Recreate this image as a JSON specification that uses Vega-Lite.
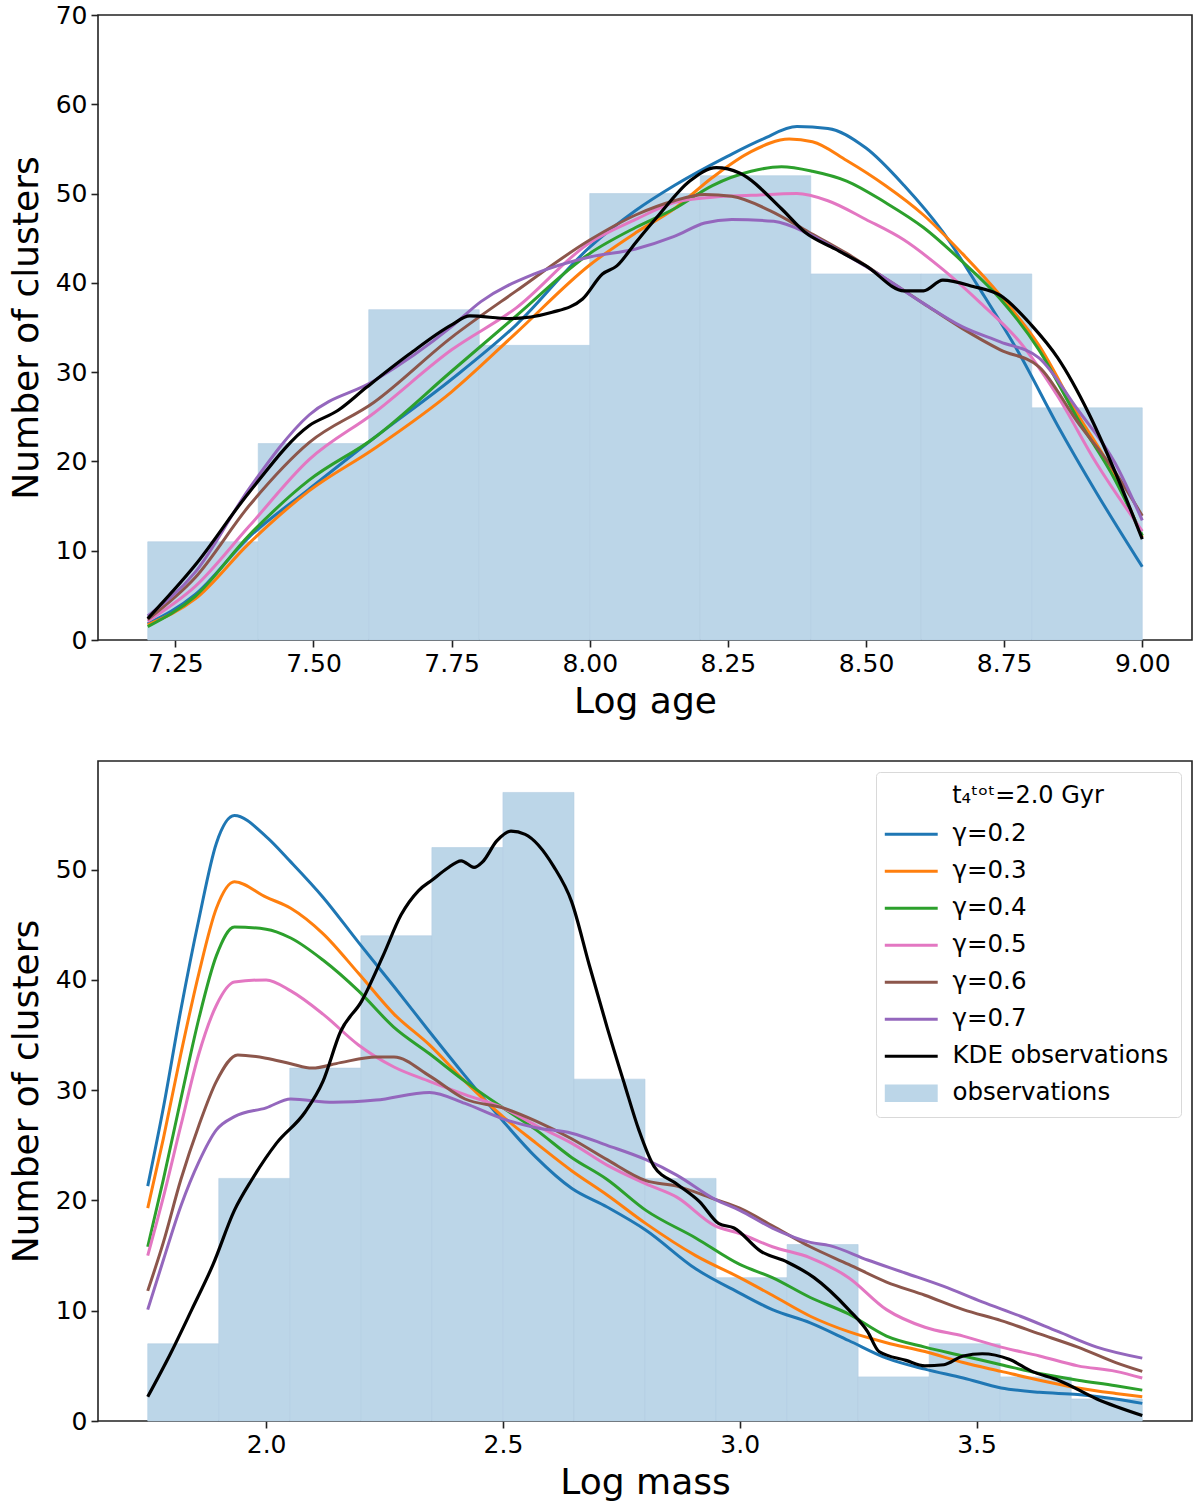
{
  "$schema": "https://vega.github.io/schema/vega-lite/v6.json",
  "description": "Cluster age and mass distributions: observations vs models for several gamma",
  "padding": {"left": 7, "top": 2, "right": 4, "bottom": 2},
  "spacing": 40,
  "datasets": {
    "ageBars": [
      {"x0": 7.2, "x1": 7.4, "n": 11},
      {"x0": 7.4, "x1": 7.6, "n": 22},
      {"x0": 7.6, "x1": 7.8, "n": 37},
      {"x0": 7.8, "x1": 8.0, "n": 33},
      {"x0": 8.0, "x1": 8.2, "n": 50},
      {"x0": 8.2, "x1": 8.4, "n": 52},
      {"x0": 8.4, "x1": 8.6, "n": 41},
      {"x0": 8.6, "x1": 8.8, "n": 41},
      {"x0": 8.8, "x1": 9.0, "n": 26}
    ],
    "massBars": [
      {"x0": 1.75, "x1": 1.9, "n": 7},
      {"x0": 1.9, "x1": 2.05, "n": 22},
      {"x0": 2.05, "x1": 2.2, "n": 32},
      {"x0": 2.2, "x1": 2.35, "n": 44},
      {"x0": 2.35, "x1": 2.5, "n": 52},
      {"x0": 2.5, "x1": 2.65, "n": 57},
      {"x0": 2.65, "x1": 2.8, "n": 31},
      {"x0": 2.8, "x1": 2.95, "n": 22},
      {"x0": 2.95, "x1": 3.1, "n": 13},
      {"x0": 3.1, "x1": 3.25, "n": 16},
      {"x0": 3.25, "x1": 3.4, "n": 4},
      {"x0": 3.4, "x1": 3.55, "n": 7},
      {"x0": 3.55, "x1": 3.7, "n": 4},
      {"x0": 3.7, "x1": 3.85, "n": 2}
    ],
    "ageCurves": [
      {"s": "γ=0.2", "x": 7.2, "y": 1.8}, {"s": "γ=0.2", "x": 7.286, "y": 5.1}, {"s": "γ=0.2", "x": 7.383, "y": 11.5}, {"s": "γ=0.2", "x": 7.492, "y": 16.9}, {"s": "γ=0.2", "x": 7.609, "y": 22.6}, {"s": "γ=0.2", "x": 7.75, "y": 29.2}, {"s": "γ=0.2", "x": 7.867, "y": 35.3}, {"s": "γ=0.2", "x": 8.0, "y": 44.0}, {"s": "γ=0.2", "x": 8.083, "y": 48.1}, {"s": "γ=0.2", "x": 8.153, "y": 50.9}, {"s": "γ=0.2", "x": 8.25, "y": 54.2}, {"s": "γ=0.2", "x": 8.313, "y": 56.1}, {"s": "γ=0.2", "x": 8.375, "y": 57.5}, {"s": "γ=0.2", "x": 8.431, "y": 57.3}, {"s": "γ=0.2", "x": 8.5, "y": 55.1}, {"s": "γ=0.2", "x": 8.569, "y": 50.9}, {"s": "γ=0.2", "x": 8.639, "y": 45.7}, {"s": "γ=0.2", "x": 8.708, "y": 39.1}, {"s": "γ=0.2", "x": 8.778, "y": 32.0}, {"s": "γ=0.2", "x": 8.847, "y": 24.0}, {"s": "γ=0.2", "x": 8.917, "y": 16.5}, {"s": "γ=0.2", "x": 9.0, "y": 8.2},
      {"s": "γ=0.3", "x": 7.2, "y": 1.7}, {"s": "γ=0.3", "x": 7.286, "y": 4.6}, {"s": "γ=0.3", "x": 7.383, "y": 10.8}, {"s": "γ=0.3", "x": 7.492, "y": 16.7}, {"s": "γ=0.3", "x": 7.609, "y": 21.4}, {"s": "γ=0.3", "x": 7.75, "y": 27.8}, {"s": "γ=0.3", "x": 7.867, "y": 34.4}, {"s": "γ=0.3", "x": 8.0, "y": 42.0}, {"s": "γ=0.3", "x": 8.083, "y": 45.6}, {"s": "γ=0.3", "x": 8.153, "y": 48.3}, {"s": "γ=0.3", "x": 8.222, "y": 51.8}, {"s": "γ=0.3", "x": 8.292, "y": 54.7}, {"s": "γ=0.3", "x": 8.361, "y": 56.1}, {"s": "γ=0.3", "x": 8.403, "y": 55.8}, {"s": "γ=0.3", "x": 8.465, "y": 53.7}, {"s": "γ=0.3", "x": 8.535, "y": 50.9}, {"s": "γ=0.3", "x": 8.604, "y": 47.6}, {"s": "γ=0.3", "x": 8.674, "y": 43.3}, {"s": "γ=0.3", "x": 8.743, "y": 38.6}, {"s": "γ=0.3", "x": 8.813, "y": 33.0}, {"s": "γ=0.3", "x": 8.882, "y": 25.4}, {"s": "γ=0.3", "x": 8.951, "y": 18.3}, {"s": "γ=0.3", "x": 9.0, "y": 11.5},
      {"s": "γ=0.4", "x": 7.2, "y": 1.5}, {"s": "γ=0.4", "x": 7.286, "y": 4.9}, {"s": "γ=0.4", "x": 7.383, "y": 11.7}, {"s": "γ=0.4", "x": 7.492, "y": 17.9}, {"s": "γ=0.4", "x": 7.609, "y": 22.6}, {"s": "γ=0.4", "x": 7.75, "y": 30.1}, {"s": "γ=0.4", "x": 7.867, "y": 36.3}, {"s": "γ=0.4", "x": 8.0, "y": 43.3}, {"s": "γ=0.4", "x": 8.083, "y": 46.2}, {"s": "γ=0.4", "x": 8.153, "y": 48.3}, {"s": "γ=0.4", "x": 8.222, "y": 50.9}, {"s": "γ=0.4", "x": 8.292, "y": 52.5}, {"s": "γ=0.4", "x": 8.347, "y": 53.0}, {"s": "γ=0.4", "x": 8.403, "y": 52.5}, {"s": "γ=0.4", "x": 8.465, "y": 51.4}, {"s": "γ=0.4", "x": 8.535, "y": 49.0}, {"s": "γ=0.4", "x": 8.604, "y": 46.2}, {"s": "γ=0.4", "x": 8.674, "y": 42.4}, {"s": "γ=0.4", "x": 8.743, "y": 38.2}, {"s": "γ=0.4", "x": 8.813, "y": 32.5}, {"s": "γ=0.4", "x": 8.882, "y": 24.9}, {"s": "γ=0.4", "x": 8.951, "y": 17.9}, {"s": "γ=0.4", "x": 9.0, "y": 11.7},
      {"s": "γ=0.5", "x": 7.2, "y": 2.1}, {"s": "γ=0.5", "x": 7.286, "y": 6.0}, {"s": "γ=0.5", "x": 7.383, "y": 12.7}, {"s": "γ=0.5", "x": 7.492, "y": 20.2}, {"s": "γ=0.5", "x": 7.609, "y": 25.4}, {"s": "γ=0.5", "x": 7.75, "y": 32.5}, {"s": "γ=0.5", "x": 7.867, "y": 37.2}, {"s": "γ=0.5", "x": 8.0, "y": 44.5}, {"s": "γ=0.5", "x": 8.083, "y": 47.1}, {"s": "γ=0.5", "x": 8.153, "y": 49.0}, {"s": "γ=0.5", "x": 8.222, "y": 49.6}, {"s": "γ=0.5", "x": 8.292, "y": 49.8}, {"s": "γ=0.5", "x": 8.375, "y": 50.0}, {"s": "γ=0.5", "x": 8.431, "y": 49.2}, {"s": "γ=0.5", "x": 8.5, "y": 47.1}, {"s": "γ=0.5", "x": 8.569, "y": 44.8}, {"s": "γ=0.5", "x": 8.639, "y": 41.5}, {"s": "γ=0.5", "x": 8.708, "y": 37.7}, {"s": "γ=0.5", "x": 8.778, "y": 33.4}, {"s": "γ=0.5", "x": 8.847, "y": 27.3}, {"s": "γ=0.5", "x": 8.917, "y": 19.8}, {"s": "γ=0.5", "x": 9.0, "y": 12.2},
      {"s": "γ=0.6", "x": 7.2, "y": 2.3}, {"s": "γ=0.6", "x": 7.286, "y": 7.0}, {"s": "γ=0.6", "x": 7.383, "y": 15.0}, {"s": "γ=0.6", "x": 7.492, "y": 22.1}, {"s": "γ=0.6", "x": 7.609, "y": 26.6}, {"s": "γ=0.6", "x": 7.75, "y": 33.9}, {"s": "γ=0.6", "x": 7.867, "y": 39.1}, {"s": "γ=0.6", "x": 8.0, "y": 44.8}, {"s": "γ=0.6", "x": 8.083, "y": 47.6}, {"s": "γ=0.6", "x": 8.153, "y": 49.2}, {"s": "γ=0.6", "x": 8.208, "y": 49.9}, {"s": "γ=0.6", "x": 8.257, "y": 49.7}, {"s": "γ=0.6", "x": 8.326, "y": 48.1}, {"s": "γ=0.6", "x": 8.396, "y": 45.7}, {"s": "γ=0.6", "x": 8.465, "y": 43.3}, {"s": "γ=0.6", "x": 8.535, "y": 40.5}, {"s": "γ=0.6", "x": 8.604, "y": 37.7}, {"s": "γ=0.6", "x": 8.674, "y": 34.9}, {"s": "γ=0.6", "x": 8.743, "y": 32.5}, {"s": "γ=0.6", "x": 8.813, "y": 30.6}, {"s": "γ=0.6", "x": 8.882, "y": 24.5}, {"s": "γ=0.6", "x": 8.951, "y": 18.8}, {"s": "γ=0.6", "x": 9.0, "y": 13.9},
      {"s": "γ=0.7", "x": 7.2, "y": 2.7}, {"s": "γ=0.7", "x": 7.286, "y": 7.6}, {"s": "γ=0.7", "x": 7.383, "y": 16.9}, {"s": "γ=0.7", "x": 7.492, "y": 25.2}, {"s": "γ=0.7", "x": 7.609, "y": 29.0}, {"s": "γ=0.7", "x": 7.75, "y": 35.1}, {"s": "γ=0.7", "x": 7.803, "y": 37.9}, {"s": "γ=0.7", "x": 7.9, "y": 41.0}, {"s": "γ=0.7", "x": 8.0, "y": 42.9}, {"s": "γ=0.7", "x": 8.083, "y": 43.8}, {"s": "γ=0.7", "x": 8.153, "y": 45.2}, {"s": "γ=0.7", "x": 8.208, "y": 46.7}, {"s": "γ=0.7", "x": 8.257, "y": 47.1}, {"s": "γ=0.7", "x": 8.333, "y": 46.9}, {"s": "γ=0.7", "x": 8.396, "y": 45.5}, {"s": "γ=0.7", "x": 8.465, "y": 43.1}, {"s": "γ=0.7", "x": 8.535, "y": 40.5}, {"s": "γ=0.7", "x": 8.604, "y": 37.7}, {"s": "γ=0.7", "x": 8.674, "y": 35.1}, {"s": "γ=0.7", "x": 8.743, "y": 33.4}, {"s": "γ=0.7", "x": 8.813, "y": 31.6}, {"s": "γ=0.7", "x": 8.882, "y": 25.9}, {"s": "γ=0.7", "x": 8.951, "y": 19.8}, {"s": "γ=0.7", "x": 9.0, "y": 13.4}
    ],
    "ageKde": [
      {"x": 7.2, "y": 2.4}, {"x": 7.286, "y": 8.4}, {"x": 7.383, "y": 16.5}, {"x": 7.492, "y": 24.0}, {"x": 7.544, "y": 25.7}, {"x": 7.596, "y": 28.3}, {"x": 7.673, "y": 32.0}, {"x": 7.75, "y": 35.3}, {"x": 7.783, "y": 36.3}, {"x": 7.855, "y": 36.0}, {"x": 7.932, "y": 36.7}, {"x": 7.987, "y": 38.2}, {"x": 8.023, "y": 41.0}, {"x": 8.049, "y": 41.9}, {"x": 8.083, "y": 44.5}, {"x": 8.125, "y": 47.6}, {"x": 8.181, "y": 51.4}, {"x": 8.229, "y": 52.9}, {"x": 8.271, "y": 52.3}, {"x": 8.347, "y": 48.3}, {"x": 8.389, "y": 45.7}, {"x": 8.444, "y": 43.8}, {"x": 8.5, "y": 41.9}, {"x": 8.569, "y": 39.1}, {"x": 8.604, "y": 39.1}, {"x": 8.639, "y": 40.3}, {"x": 8.694, "y": 39.6}, {"x": 8.743, "y": 38.6}, {"x": 8.799, "y": 35.3}, {"x": 8.847, "y": 31.6}, {"x": 8.903, "y": 25.4}, {"x": 8.951, "y": 18.8}, {"x": 9.0, "y": 11.3}
    ],
    "massCurves": [
      {"s": "γ=0.2", "x": 1.75, "y": 21.3}, {"s": "γ=0.2", "x": 1.783, "y": 28.4}, {"s": "γ=0.2", "x": 1.82, "y": 37.3}, {"s": "γ=0.2", "x": 1.858, "y": 45.5}, {"s": "γ=0.2", "x": 1.895, "y": 52.4}, {"s": "γ=0.2", "x": 1.933, "y": 54.9}, {"s": "γ=0.2", "x": 2.0, "y": 53.0}, {"s": "γ=0.2", "x": 2.052, "y": 50.7}, {"s": "γ=0.2", "x": 2.12, "y": 47.5}, {"s": "γ=0.2", "x": 2.195, "y": 43.4}, {"s": "γ=0.2", "x": 2.27, "y": 39.4}, {"s": "γ=0.2", "x": 2.345, "y": 35.3}, {"s": "γ=0.2", "x": 2.42, "y": 31.3}, {"s": "γ=0.2", "x": 2.5, "y": 27.2}, {"s": "γ=0.2", "x": 2.57, "y": 23.9}, {"s": "γ=0.2", "x": 2.645, "y": 21.1}, {"s": "γ=0.2", "x": 2.72, "y": 19.4}, {"s": "γ=0.2", "x": 2.802, "y": 17.3}, {"s": "γ=0.2", "x": 2.907, "y": 13.8}, {"s": "γ=0.2", "x": 3.0, "y": 11.6}, {"s": "γ=0.2", "x": 3.069, "y": 10.1}, {"s": "γ=0.2", "x": 3.149, "y": 8.9}, {"s": "γ=0.2", "x": 3.23, "y": 7.3}, {"s": "γ=0.2", "x": 3.31, "y": 5.7}, {"s": "γ=0.2", "x": 3.391, "y": 4.7}, {"s": "γ=0.2", "x": 3.472, "y": 3.9}, {"s": "γ=0.2", "x": 3.552, "y": 3.0}, {"s": "γ=0.2", "x": 3.633, "y": 2.6}, {"s": "γ=0.2", "x": 3.714, "y": 2.4}, {"s": "γ=0.2", "x": 3.794, "y": 2.0}, {"s": "γ=0.2", "x": 3.85, "y": 1.6},
      {"s": "γ=0.3", "x": 1.75, "y": 19.3}, {"s": "γ=0.3", "x": 1.783, "y": 25.6}, {"s": "γ=0.3", "x": 1.82, "y": 33.3}, {"s": "γ=0.3", "x": 1.858, "y": 40.6}, {"s": "γ=0.3", "x": 1.895, "y": 46.5}, {"s": "γ=0.3", "x": 1.933, "y": 48.9}, {"s": "γ=0.3", "x": 2.0, "y": 47.5}, {"s": "γ=0.3", "x": 2.052, "y": 46.5}, {"s": "γ=0.3", "x": 2.12, "y": 44.2}, {"s": "γ=0.3", "x": 2.195, "y": 40.6}, {"s": "γ=0.3", "x": 2.27, "y": 36.9}, {"s": "γ=0.3", "x": 2.345, "y": 34.1}, {"s": "γ=0.3", "x": 2.42, "y": 30.8}, {"s": "γ=0.3", "x": 2.5, "y": 27.6}, {"s": "γ=0.3", "x": 2.57, "y": 25.2}, {"s": "γ=0.3", "x": 2.645, "y": 22.7}, {"s": "γ=0.3", "x": 2.72, "y": 20.5}, {"s": "γ=0.3", "x": 2.802, "y": 17.9}, {"s": "γ=0.3", "x": 2.907, "y": 15.0}, {"s": "γ=0.3", "x": 3.0, "y": 13.0}, {"s": "γ=0.3", "x": 3.069, "y": 11.4}, {"s": "γ=0.3", "x": 3.149, "y": 9.5}, {"s": "γ=0.3", "x": 3.23, "y": 8.1}, {"s": "γ=0.3", "x": 3.31, "y": 7.1}, {"s": "γ=0.3", "x": 3.391, "y": 6.3}, {"s": "γ=0.3", "x": 3.472, "y": 5.3}, {"s": "γ=0.3", "x": 3.552, "y": 4.5}, {"s": "γ=0.3", "x": 3.633, "y": 3.7}, {"s": "γ=0.3", "x": 3.714, "y": 3.0}, {"s": "γ=0.3", "x": 3.794, "y": 2.5}, {"s": "γ=0.3", "x": 3.85, "y": 2.2},
      {"s": "γ=0.4", "x": 1.75, "y": 15.8}, {"s": "γ=0.4", "x": 1.783, "y": 21.9}, {"s": "γ=0.4", "x": 1.82, "y": 29.2}, {"s": "γ=0.4", "x": 1.858, "y": 36.5}, {"s": "γ=0.4", "x": 1.895, "y": 42.2}, {"s": "γ=0.4", "x": 1.933, "y": 44.8}, {"s": "γ=0.4", "x": 2.0, "y": 44.6}, {"s": "γ=0.4", "x": 2.052, "y": 43.8}, {"s": "γ=0.4", "x": 2.12, "y": 41.8}, {"s": "γ=0.4", "x": 2.195, "y": 39.0}, {"s": "γ=0.4", "x": 2.27, "y": 35.7}, {"s": "γ=0.4", "x": 2.345, "y": 33.3}, {"s": "γ=0.4", "x": 2.42, "y": 30.8}, {"s": "γ=0.4", "x": 2.5, "y": 28.4}, {"s": "γ=0.4", "x": 2.57, "y": 26.4}, {"s": "γ=0.4", "x": 2.645, "y": 23.9}, {"s": "γ=0.4", "x": 2.72, "y": 21.9}, {"s": "γ=0.4", "x": 2.802, "y": 19.1}, {"s": "γ=0.4", "x": 2.907, "y": 16.6}, {"s": "γ=0.4", "x": 3.0, "y": 14.2}, {"s": "γ=0.4", "x": 3.069, "y": 13.0}, {"s": "γ=0.4", "x": 3.149, "y": 11.2}, {"s": "γ=0.4", "x": 3.23, "y": 9.7}, {"s": "γ=0.4", "x": 3.31, "y": 7.7}, {"s": "γ=0.4", "x": 3.391, "y": 6.7}, {"s": "γ=0.4", "x": 3.472, "y": 5.9}, {"s": "γ=0.4", "x": 3.552, "y": 5.1}, {"s": "γ=0.4", "x": 3.633, "y": 4.3}, {"s": "γ=0.4", "x": 3.714, "y": 3.7}, {"s": "γ=0.4", "x": 3.794, "y": 3.2}, {"s": "γ=0.4", "x": 3.85, "y": 2.8},
      {"s": "γ=0.5", "x": 1.75, "y": 15.0}, {"s": "γ=0.5", "x": 1.783, "y": 20.3}, {"s": "γ=0.5", "x": 1.82, "y": 26.8}, {"s": "γ=0.5", "x": 1.858, "y": 33.3}, {"s": "γ=0.5", "x": 1.895, "y": 37.7}, {"s": "γ=0.5", "x": 1.933, "y": 39.8}, {"s": "γ=0.5", "x": 2.0, "y": 40.0}, {"s": "γ=0.5", "x": 2.052, "y": 39.0}, {"s": "γ=0.5", "x": 2.12, "y": 36.9}, {"s": "γ=0.5", "x": 2.195, "y": 34.1}, {"s": "γ=0.5", "x": 2.27, "y": 32.1}, {"s": "γ=0.5", "x": 2.345, "y": 30.8}, {"s": "γ=0.5", "x": 2.42, "y": 29.6}, {"s": "γ=0.5", "x": 2.5, "y": 28.4}, {"s": "γ=0.5", "x": 2.57, "y": 26.8}, {"s": "γ=0.5", "x": 2.645, "y": 25.2}, {"s": "γ=0.5", "x": 2.72, "y": 23.2}, {"s": "γ=0.5", "x": 2.802, "y": 21.5}, {"s": "γ=0.5", "x": 2.867, "y": 20.3}, {"s": "γ=0.5", "x": 2.948, "y": 17.7}, {"s": "γ=0.5", "x": 3.0, "y": 17.0}, {"s": "γ=0.5", "x": 3.069, "y": 15.8}, {"s": "γ=0.5", "x": 3.149, "y": 14.8}, {"s": "γ=0.5", "x": 3.23, "y": 13.0}, {"s": "γ=0.5", "x": 3.31, "y": 10.1}, {"s": "γ=0.5", "x": 3.391, "y": 8.5}, {"s": "γ=0.5", "x": 3.472, "y": 7.7}, {"s": "γ=0.5", "x": 3.552, "y": 6.7}, {"s": "γ=0.5", "x": 3.633, "y": 5.9}, {"s": "γ=0.5", "x": 3.714, "y": 5.0}, {"s": "γ=0.5", "x": 3.794, "y": 4.5}, {"s": "γ=0.5", "x": 3.85, "y": 3.9},
      {"s": "γ=0.6", "x": 1.75, "y": 11.8}, {"s": "γ=0.6", "x": 1.783, "y": 16.2}, {"s": "γ=0.6", "x": 1.82, "y": 21.9}, {"s": "γ=0.6", "x": 1.858, "y": 26.8}, {"s": "γ=0.6", "x": 1.895, "y": 30.8}, {"s": "γ=0.6", "x": 1.94, "y": 33.2}, {"s": "γ=0.6", "x": 2.0, "y": 32.9}, {"s": "γ=0.6", "x": 2.052, "y": 32.4}, {"s": "γ=0.6", "x": 2.097, "y": 32.0}, {"s": "γ=0.6", "x": 2.157, "y": 32.5}, {"s": "γ=0.6", "x": 2.232, "y": 33.0}, {"s": "γ=0.6", "x": 2.27, "y": 33.0}, {"s": "γ=0.6", "x": 2.345, "y": 31.3}, {"s": "γ=0.6", "x": 2.42, "y": 29.2}, {"s": "γ=0.6", "x": 2.5, "y": 28.4}, {"s": "γ=0.6", "x": 2.57, "y": 27.2}, {"s": "γ=0.6", "x": 2.645, "y": 25.6}, {"s": "γ=0.6", "x": 2.72, "y": 23.7}, {"s": "γ=0.6", "x": 2.802, "y": 21.8}, {"s": "γ=0.6", "x": 2.867, "y": 21.3}, {"s": "γ=0.6", "x": 2.948, "y": 20.1}, {"s": "γ=0.6", "x": 3.0, "y": 19.3}, {"s": "γ=0.6", "x": 3.069, "y": 17.7}, {"s": "γ=0.6", "x": 3.149, "y": 15.8}, {"s": "γ=0.6", "x": 3.23, "y": 14.2}, {"s": "γ=0.6", "x": 3.31, "y": 12.6}, {"s": "γ=0.6", "x": 3.391, "y": 11.4}, {"s": "γ=0.6", "x": 3.472, "y": 10.1}, {"s": "γ=0.6", "x": 3.552, "y": 9.1}, {"s": "γ=0.6", "x": 3.633, "y": 7.9}, {"s": "γ=0.6", "x": 3.714, "y": 6.7}, {"s": "γ=0.6", "x": 3.794, "y": 5.3}, {"s": "γ=0.6", "x": 3.85, "y": 4.5},
      {"s": "γ=0.7", "x": 1.75, "y": 10.1}, {"s": "γ=0.7", "x": 1.783, "y": 14.6}, {"s": "γ=0.7", "x": 1.82, "y": 19.5}, {"s": "γ=0.7", "x": 1.858, "y": 23.5}, {"s": "γ=0.7", "x": 1.895, "y": 26.4}, {"s": "γ=0.7", "x": 1.933, "y": 27.6}, {"s": "γ=0.7", "x": 2.0, "y": 28.4}, {"s": "γ=0.7", "x": 2.052, "y": 29.2}, {"s": "γ=0.7", "x": 2.142, "y": 28.9}, {"s": "γ=0.7", "x": 2.232, "y": 29.1}, {"s": "γ=0.7", "x": 2.345, "y": 29.8}, {"s": "γ=0.7", "x": 2.42, "y": 28.8}, {"s": "γ=0.7", "x": 2.5, "y": 27.4}, {"s": "γ=0.7", "x": 2.57, "y": 26.6}, {"s": "γ=0.7", "x": 2.645, "y": 26.1}, {"s": "γ=0.7", "x": 2.72, "y": 25.0}, {"s": "γ=0.7", "x": 2.802, "y": 23.7}, {"s": "γ=0.7", "x": 2.867, "y": 22.3}, {"s": "γ=0.7", "x": 2.948, "y": 20.1}, {"s": "γ=0.7", "x": 3.0, "y": 19.1}, {"s": "γ=0.7", "x": 3.069, "y": 17.5}, {"s": "γ=0.7", "x": 3.149, "y": 16.2}, {"s": "γ=0.7", "x": 3.19, "y": 15.9}, {"s": "γ=0.7", "x": 3.27, "y": 14.6}, {"s": "γ=0.7", "x": 3.351, "y": 13.4}, {"s": "γ=0.7", "x": 3.431, "y": 12.2}, {"s": "γ=0.7", "x": 3.512, "y": 10.8}, {"s": "γ=0.7", "x": 3.593, "y": 9.5}, {"s": "γ=0.7", "x": 3.673, "y": 8.1}, {"s": "γ=0.7", "x": 3.754, "y": 6.7}, {"s": "γ=0.7", "x": 3.85, "y": 5.7}
    ],
    "massKde": [
      {"x": 1.75, "y": 2.2}, {"x": 1.798, "y": 6.1}, {"x": 1.843, "y": 10.1}, {"x": 1.888, "y": 14.2}, {"x": 1.933, "y": 19.1}, {"x": 1.97, "y": 21.9}, {"x": 2.022, "y": 25.2}, {"x": 2.082, "y": 28.0}, {"x": 2.12, "y": 30.8}, {"x": 2.157, "y": 35.3}, {"x": 2.202, "y": 38.1}, {"x": 2.247, "y": 42.2}, {"x": 2.285, "y": 45.9}, {"x": 2.322, "y": 48.1}, {"x": 2.352, "y": 49.1}, {"x": 2.382, "y": 50.1}, {"x": 2.412, "y": 50.8}, {"x": 2.439, "y": 50.2}, {"x": 2.457, "y": 50.7}, {"x": 2.487, "y": 52.6}, {"x": 2.517, "y": 53.5}, {"x": 2.547, "y": 53.2}, {"x": 2.607, "y": 50.3}, {"x": 2.645, "y": 47.1}, {"x": 2.682, "y": 41.4}, {"x": 2.72, "y": 35.7}, {"x": 2.757, "y": 30.5}, {"x": 2.787, "y": 26.4}, {"x": 2.819, "y": 23.1}, {"x": 2.867, "y": 21.5}, {"x": 2.915, "y": 19.9}, {"x": 2.956, "y": 17.9}, {"x": 2.988, "y": 17.5}, {"x": 3.044, "y": 15.4}, {"x": 3.101, "y": 14.4}, {"x": 3.157, "y": 13.0}, {"x": 3.23, "y": 10.1}, {"x": 3.27, "y": 8.1}, {"x": 3.294, "y": 6.3}, {"x": 3.351, "y": 5.5}, {"x": 3.391, "y": 5.0}, {"x": 3.431, "y": 5.1}, {"x": 3.472, "y": 5.9}, {"x": 3.512, "y": 6.1}, {"x": 3.569, "y": 5.6}, {"x": 3.617, "y": 4.5}, {"x": 3.673, "y": 3.7}, {"x": 3.754, "y": 2.0}, {"x": 3.85, "y": 0.5}
    ]
  },
  "vconcat": [
    {
      "width": 1094,
      "height": 625,
      "layer": [
        {
          "data": {"name": "ageBars"},
          "mark": {"type": "rect", "color": "#bcd6e8", "stroke": "#b1cde2", "strokeWidth": 0.6},
          "encoding": {
            "x": {"field": "x0", "type": "quantitative", "scale": {"domain": [7.11, 9.09], "nice": false, "zero": false},
                  "axis": {"title": "Log age", "values": [7.25, 7.5, 7.75, 8.0, 8.25, 8.5, 8.75, 9.0], "format": ".2f"}},
            "x2": {"field": "x1"},
            "y": {"field": "n", "type": "quantitative", "scale": {"domain": [0, 70], "nice": false},
                  "axis": {"title": "Number of clusters", "values": [0, 10, 20, 30, 40, 50, 60, 70]}},
            "y2": {"datum": 0}
          }
        },
        {
          "data": {"name": "ageCurves"},
          "mark": {"type": "line", "strokeWidth": 3, "interpolate": "monotone"},
          "encoding": {
            "x": {"field": "x", "type": "quantitative"},
            "y": {"field": "y", "type": "quantitative"},
            "color": {"field": "s", "type": "nominal", "legend": null,
                      "scale": {"domain": ["γ=0.2", "γ=0.3", "γ=0.4", "γ=0.5", "γ=0.6", "γ=0.7"],
                                "range": ["#1f77b4", "#ff7f0e", "#2ca02c", "#e377c2", "#8c564b", "#9467bd"]}}
          }
        },
        {
          "data": {"name": "ageKde"},
          "mark": {"type": "line", "strokeWidth": 3.2, "interpolate": "monotone", "color": "#000000"},
          "encoding": {
            "x": {"field": "x", "type": "quantitative"},
            "y": {"field": "y", "type": "quantitative"}
          }
        }
      ]
    },
    {
      "width": 1094,
      "height": 660,
      "layer": [
        {
          "data": {"name": "massBars"},
          "mark": {"type": "rect", "stroke": "#b1cde2", "strokeWidth": 0.6},
          "encoding": {
            "x": {"field": "x0", "type": "quantitative", "scale": {"domain": [1.645, 3.955], "nice": false, "zero": false},
                  "axis": {"title": "Log mass", "values": [2.0, 2.5, 3.0, 3.5], "format": ".1f"}},
            "x2": {"field": "x1"},
            "y": {"field": "n", "type": "quantitative", "scale": {"domain": [0, 59.85], "nice": false},
                  "axis": {"title": "Number of clusters", "values": [0, 10, 20, 30, 40, 50]}},
            "y2": {"datum": 0},
            "color": {"datum": "observations", "type": "nominal"}
          }
        },
        {
          "data": {"name": "massCurves"},
          "mark": {"type": "line", "strokeWidth": 3, "interpolate": "monotone"},
          "encoding": {
            "x": {"field": "x", "type": "quantitative"},
            "y": {"field": "y", "type": "quantitative"},
            "color": {"field": "s", "type": "nominal"}
          }
        },
        {
          "data": {"name": "massKde"},
          "mark": {"type": "line", "strokeWidth": 3.2, "interpolate": "monotone"},
          "encoding": {
            "x": {"field": "x", "type": "quantitative"},
            "y": {"field": "y", "type": "quantitative"},
            "color": {"datum": "KDE observations", "type": "nominal",
                      "scale": {"domain": ["γ=0.2", "γ=0.3", "γ=0.4", "γ=0.5", "γ=0.6", "γ=0.7", "KDE observations", "observations"],
                                "range": ["#1f77b4", "#ff7f0e", "#2ca02c", "#e377c2", "#8c564b", "#9467bd", "#000000", "#bcd6e8"]},
                      "legend": {
                        "orient": "top-right",
                        "offset": 11,
                        "title": "t₄ᵗᵒᵗ=2.0 Gyr",
                        "titleFontSize": 24,
                        "titleFontWeight": "normal",
                        "titleColor": "#000000",
                        "titleAnchor": "middle",
                        "titlePadding": 14,
                        "labelFontSize": 24.5,
                        "labelColor": "#000000",
                        "labelLimit": 400,
                        "labelOffset": 29,
                        "symbolOffset": 11,
                        "symbolSize": 2800,
                        "symbolStrokeWidth": 3,
                        "rowPadding": 12,
                        "padding": 12,
                        "fillColor": "#ffffff",
                        "strokeColor": "#d9d9d9",
                        "cornerRadius": 4,
                        "encode": {
                          "symbols": {
                            "update": {
                              "shape": {"signal": "datum.value === 'observations' ? 'M-1,-0.33H1V0.33H-1Z' : 'stroke'"},
                              "fill": {"signal": "datum.value === 'observations' ? '#bcd6e8' : 'transparent'"},
                              "stroke": {"signal": "['#1f77b4','#ff7f0e','#2ca02c','#e377c2','#8c564b','#9467bd','#000000','#bcd6e8'][indexof(['γ=0.2','γ=0.3','γ=0.4','γ=0.5','γ=0.6','γ=0.7','KDE observations','observations'], datum.value)]"},
                              "strokeWidth": {"signal": "datum.value === 'observations' ? 0 : 3"},
                              "opacity": {"value": 1}
                            }
                          }
                        }
                      }}
          }
        }
      ]
    }
  ],
  "resolve": {"scale": {"color": "independent"}, "legend": {"color": "independent"}},
  "config": {
    "font": "DejaVu Sans",
    "view": {"stroke": "#222222", "strokeWidth": 1.6},
    "axis": {
      "grid": false,
      "domain": false,
      "ticks": true,
      "tickColor": "#222222",
      "tickWidth": 1.6,
      "tickSize": 7,
      "labelFontSize": 25,
      "labelColor": "#000000",
      "labelPadding": 4,
      "labelFlush": false,
      "labelOverlap": false,
      "titleFontSize": 36,
      "titleFontWeight": "normal",
      "titleColor": "#000000",
      "titlePadding": 8
    },
    "axisY": {"titlePadding": 10}
  }
}
